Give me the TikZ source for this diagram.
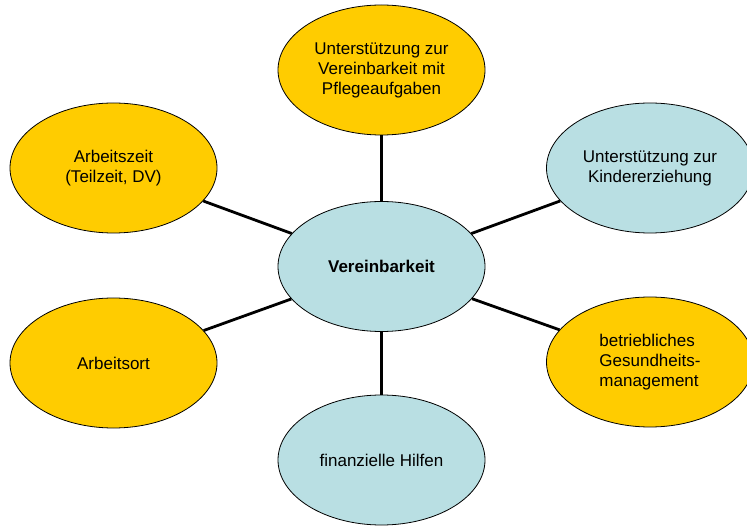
\documentclass[tikz,border=0pt]{standalone}
\usepackage{fontspec}
\setmainfont{Liberation Sans}
\usepackage{xcolor}
\usepackage{tikz}
\usetikzlibrary{shapes.geometric}

\definecolor{gelb}{RGB}{255,204,0}
\definecolor{hellblau}{RGB}{185,223,227}

\tikzset{
    blase/.style={ellipse,draw=black,line width=0.8pt,minimum width=207pt,minimum height=130pt,
        inner sep=0pt,align=center,font=\fontsize{17}{20}\selectfont},
    gelbblase/.style={blase,fill=gelb},
    blaublase/.style={blase,fill=hellblau},
    speiche/.style={line width=2.8pt}
}

\begin{document}
\begin{tikzpicture}[x=1pt,y=-1pt]
            %%% FRAME %%%
            \useasboundingbox (0,0) rectangle (747,526);
            
            %%% BUBBLES %%%
            \node[blaublase,font=\fontsize{17}{20}\selectfont\bfseries] (mitte) at (381.5,266.5) {Vereinbarkeit};
            \node[gelbblase] (pflege) at (381.5,70) {Unterstützung zur\\Vereinbarkeit mit\\Pflegeaufgaben};
            \node[blaublase] (kinder) at (650,168) {Unterstützung zur\\Kindererziehung};
            \node[gelbblase,align=left] (gesund) at (650,362) {betriebliches\\Gesundheits-\\management};
            \node[blaublase] (hilfen) at (381.5,460) {finanzielle Hilfen};
            \node[gelbblase] (ort) at (113.5,363) {Arbeitsort};
            \node[gelbblase] (zeit) at (113.5,168) {Arbeitszeit\\(Teilzeit, DV)};
            
            %%% SPOKES %%%
            \foreach \ziel in {pflege,kinder,gesund,hilfen,ort,zeit}
                \draw[speiche] (mitte)--(\ziel);
        \end{tikzpicture}
\end{document}
